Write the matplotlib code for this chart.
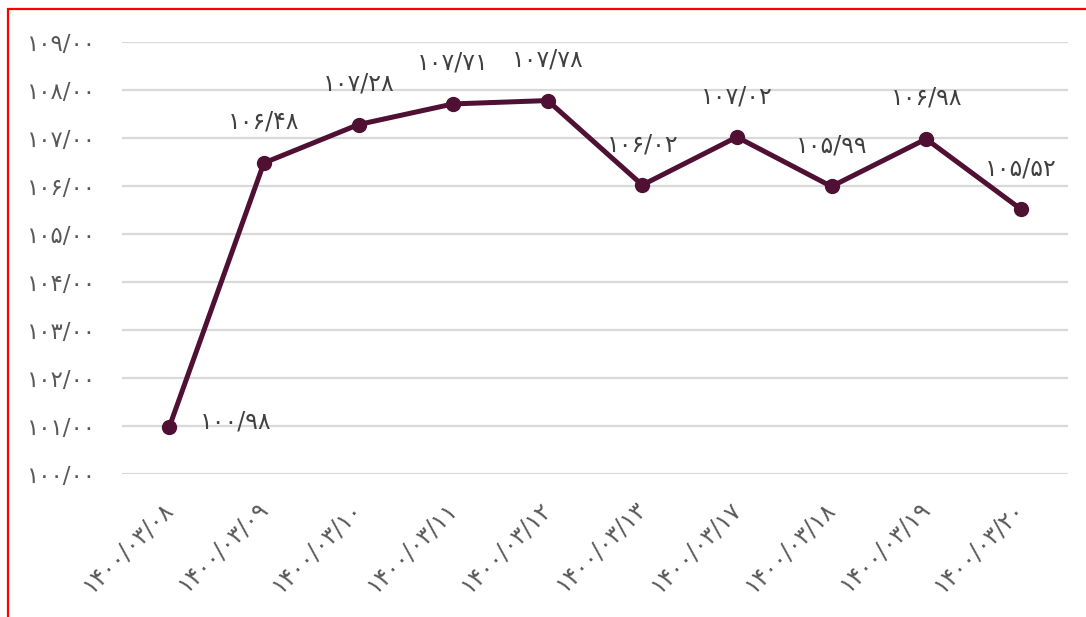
import matplotlib
matplotlib.use('Agg')
import matplotlib.pyplot as plt
from matplotlib.patches import Rectangle

plt.rcParams['font.family'] = ['DejaVu Sans']

# data (Persian calendar dates, index values)
dates = ['۱۴۰۰/۰۳/۰۸', '۱۴۰۰/۰۳/۰۹', '۱۴۰۰/۰۳/۱۰', '۱۴۰۰/۰۳/۱۱', '۱۴۰۰/۰۳/۱۲',
         '۱۴۰۰/۰۳/۱۳', '۱۴۰۰/۰۳/۱۷', '۱۴۰۰/۰۳/۱۸', '۱۴۰۰/۰۳/۱۹', '۱۴۰۰/۰۳/۲۰']
values = [100.98, 106.48, 107.28, 107.71, 107.78, 106.02, 107.02, 105.99, 106.98, 105.52]
y_ticks = [100, 101, 102, 103, 104, 105, 106, 107, 108, 109]

fa_digits = str.maketrans('0123456789', '۰۱۲۳۴۵۶۷۸۹')


def to_fa(v):
    return ('%.2f' % v).replace('.', '/').translate(fa_digits)


line_color = '#4f1034'

fig = plt.figure(figsize=(10.86, 6.17), dpi=100)
ax = fig.add_axes([122 / 1086, 1 - 474 / 617, 946 / 1086, 432 / 617])

x = list(range(len(values)))
ax.plot(x, values, color=line_color, lw=3.6, marker='o', markersize=10,
        solid_capstyle='round', zorder=3)

for i, v in enumerate(values):
    if i == 0:
        off = (66, 5)
    else:
        off = (0, 41)
    ax.annotate(to_fa(v), (i, v), xytext=off, textcoords='offset pixels',
                ha='center', va='center', fontsize=17, color='#404040')

ax.set_xlim(-0.5, len(values) - 0.5)
ax.set_ylim(100, 109)
ax.set_yticks(y_ticks)
ax.set_yticklabels([to_fa(t) for t in y_ticks], fontsize=16.5, color='#595959')
ax.set_xticks(x)
ax.set_xticklabels(dates, rotation=45, ha='right', va='center', rotation_mode='anchor',
                   fontsize=17, color='#595959')
ax.tick_params(axis='both', length=0)
ax.tick_params(axis='y', pad=19)
ax.tick_params(axis='x', pad=22)
ax.grid(axis='y', color='#d9d9d9', lw=1.6)
ax.set_axisbelow(True)
for s in ax.spines.values():
    s.set_visible(False)

# red frame round the chart
fig.patches.append(Rectangle((8 / 1086, -0.1), 1.2, 1 - 9 / 617 + 0.1,
                             transform=fig.transFigure, fill=False,
                             edgecolor='red', lw=1.6))

fig.savefig('out.png', dpi=100)
